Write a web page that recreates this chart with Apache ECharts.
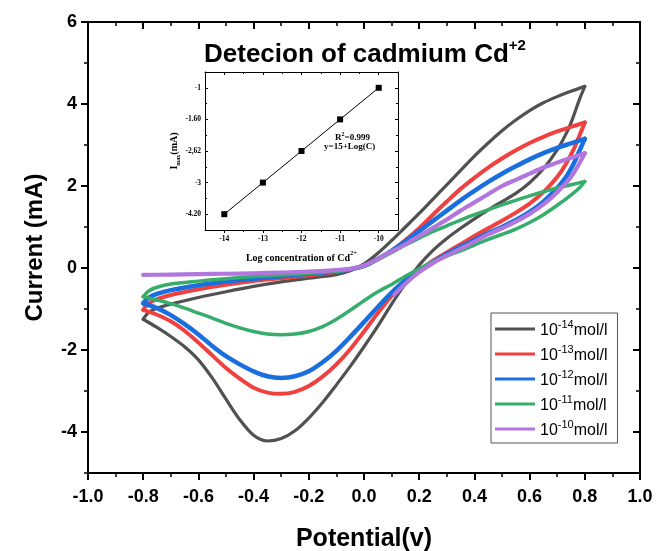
<!DOCTYPE html>
<html><head><meta charset="utf-8">
<script src="https://cdn.jsdelivr.net/npm/echarts@6/dist/echarts.min.js"></script>
<style>html,body{margin:0;padding:0;background:#fff}#c{width:657px;height:551px}</style>
</head><body><div id="c"></div>
<script>
// ---- data ----
const concExp = ['-14', '-13', '-12', '-11', '-10'];
const seriesNames = concExp.map(e => '10' + e + 'mol/l');
const seriesColors = ['#515151', '#F14040', '#1A6FDF', '#37AD6B', '#B177DE'];

// forward (upper) branches: -0.8 V -> 0.8 V
const fwd14 = [[-0.8,-1.25],[-0.78,-1.08],[-0.75,-0.98],[-0.7,-0.88],[-0.6,-0.72],[-0.5,-0.58],[-0.4,-0.45],[-0.3,-0.34],[-0.2,-0.25],[-0.1,-0.16],[-0.05,-0.07],[0.0,0.1],[0.05,0.36],[0.1,0.67],[0.15,1.0],[0.2,1.33],[0.25,1.68],[0.3,2.03],[0.35,2.38],[0.4,2.73],[0.45,3.05],[0.5,3.35],[0.55,3.61],[0.6,3.84],[0.65,4.03],[0.7,4.18],[0.75,4.31],[0.8,4.43]];
const fwd13 = [[-0.8,-1.02],[-0.78,-0.86],[-0.75,-0.76],[-0.7,-0.66],[-0.6,-0.52],[-0.5,-0.41],[-0.4,-0.32],[-0.3,-0.25],[-0.2,-0.18],[-0.1,-0.1],[-0.05,-0.04],[0.0,0.05],[0.05,0.22],[0.1,0.42],[0.15,0.68],[0.2,0.97],[0.25,1.3],[0.3,1.62],[0.35,1.93],[0.4,2.2],[0.45,2.45],[0.5,2.67],[0.55,2.87],[0.6,3.05],[0.65,3.2],[0.7,3.33],[0.75,3.44],[0.8,3.55]];
const fwd12 = [[-0.8,-0.86],[-0.78,-0.72],[-0.75,-0.63],[-0.7,-0.54],[-0.6,-0.42],[-0.5,-0.33],[-0.4,-0.26],[-0.3,-0.2],[-0.2,-0.14],[-0.1,-0.08],[-0.05,-0.03],[0.0,0.05],[0.05,0.22],[0.1,0.42],[0.15,0.65],[0.2,0.9],[0.25,1.15],[0.3,1.4],[0.35,1.65],[0.4,1.88],[0.45,2.1],[0.5,2.3],[0.55,2.48],[0.6,2.65],[0.65,2.8],[0.7,2.93],[0.75,3.04],[0.8,3.15]];
const fwd11 = [[-0.8,-0.7],[-0.78,-0.56],[-0.75,-0.47],[-0.7,-0.39],[-0.6,-0.32],[-0.5,-0.26],[-0.4,-0.21],[-0.3,-0.17],[-0.2,-0.13],[-0.1,-0.08],[-0.05,-0.03],[0.0,0.05],[0.05,0.2],[0.1,0.38],[0.15,0.56],[0.2,0.73],[0.25,0.89],[0.3,1.03],[0.35,1.17],[0.4,1.3],[0.45,1.42],[0.5,1.54],[0.55,1.65],[0.6,1.76],[0.65,1.86],[0.7,1.95],[0.75,2.03],[0.8,2.11]];
const fwd10 = [[-0.8,-0.17],[-0.7,-0.16],[-0.6,-0.15],[-0.5,-0.14],[-0.4,-0.13],[-0.3,-0.11],[-0.2,-0.09],[-0.1,-0.05],[-0.05,-0.02],[0.0,0.06],[0.05,0.22],[0.1,0.4],[0.15,0.58],[0.2,0.78],[0.25,0.98],[0.3,1.18],[0.35,1.4],[0.4,1.6],[0.45,1.8],[0.5,2.0],[0.55,2.15],[0.6,2.3],[0.65,2.45],[0.7,2.57],[0.75,2.69],[0.8,2.8]];
// reverse (lower) branches: 0.8 V -> -0.8 V
const rev14 = [[0.8,4.43],[0.78,4.1],[0.76,3.72],[0.74,3.38],[0.7,2.88],[0.65,2.42],[0.6,2.08],[0.55,1.82],[0.5,1.62],[0.45,1.42],[0.4,1.2],[0.35,0.97],[0.3,0.72],[0.25,0.43],[0.2,0.07],[0.15,-0.38],[0.1,-0.88],[0.05,-1.42],[0.0,-1.92],[-0.05,-2.4],[-0.1,-2.85],[-0.15,-3.28],[-0.2,-3.66],[-0.25,-3.97],[-0.3,-4.16],[-0.35,-4.22],[-0.4,-4.08],[-0.45,-3.7],[-0.5,-3.2],[-0.55,-2.68],[-0.6,-2.24],[-0.65,-1.92],[-0.7,-1.67],[-0.75,-1.45],[-0.8,-1.25]];
const rev13 = [[0.8,3.55],[0.78,3.22],[0.76,2.9],[0.73,2.52],[0.7,2.22],[0.65,1.85],[0.6,1.57],[0.55,1.35],[0.5,1.15],[0.45,0.97],[0.4,0.78],[0.35,0.58],[0.3,0.38],[0.25,0.18],[0.2,-0.06],[0.15,-0.33],[0.1,-0.68],[0.05,-1.1],[0.0,-1.55],[-0.05,-1.98],[-0.1,-2.35],[-0.15,-2.65],[-0.2,-2.88],[-0.25,-3.02],[-0.3,-3.07],[-0.35,-3.04],[-0.4,-2.92],[-0.45,-2.7],[-0.5,-2.44],[-0.55,-2.13],[-0.6,-1.82],[-0.65,-1.53],[-0.7,-1.3],[-0.75,-1.14],[-0.8,-1.02]];
const rev12 = [[0.8,3.15],[0.78,2.85],[0.76,2.55],[0.73,2.2],[0.7,1.95],[0.65,1.62],[0.6,1.37],[0.55,1.17],[0.5,1.0],[0.45,0.85],[0.4,0.68],[0.35,0.52],[0.3,0.34],[0.25,0.15],[0.2,-0.07],[0.15,-0.3],[0.1,-0.6],[0.05,-0.95],[0.0,-1.32],[-0.05,-1.68],[-0.1,-2.02],[-0.15,-2.3],[-0.2,-2.52],[-0.25,-2.64],[-0.3,-2.68],[-0.35,-2.64],[-0.4,-2.52],[-0.45,-2.35],[-0.5,-2.15],[-0.55,-1.9],[-0.6,-1.62],[-0.65,-1.37],[-0.7,-1.15],[-0.75,-0.98],[-0.8,-0.86]];
const rev11 = [[0.8,2.11],[0.78,1.95],[0.75,1.78],[0.7,1.53],[0.65,1.3],[0.6,1.11],[0.55,0.95],[0.5,0.82],[0.45,0.7],[0.4,0.56],[0.35,0.42],[0.3,0.29],[0.25,0.15],[0.2,-0.02],[0.15,-0.2],[0.1,-0.4],[0.05,-0.58],[0.0,-0.8],[-0.05,-1.03],[-0.1,-1.25],[-0.15,-1.43],[-0.2,-1.55],[-0.25,-1.61],[-0.3,-1.63],[-0.35,-1.61],[-0.4,-1.55],[-0.45,-1.46],[-0.5,-1.35],[-0.55,-1.22],[-0.6,-1.1],[-0.65,-0.98],[-0.7,-0.87],[-0.75,-0.78],[-0.8,-0.7]];
const rev10 = [[0.8,2.8],[0.78,2.55],[0.75,2.22],[0.7,1.85],[0.65,1.55],[0.6,1.32],[0.55,1.13],[0.5,0.97],[0.45,0.82],[0.4,0.64],[0.35,0.47],[0.3,0.3],[0.25,0.12],[0.2,-0.1],[0.15,-0.38],[0.11,-0.65]];
const fwdData = [fwd14, fwd13, fwd12, fwd11, fwd10];
const revData = [rev14, rev13, rev12, rev11, rev10];

const yTickValues = [-4, -2, 0, 2, 4, 6];
const yMinorValues = [-5, -3, -1, 1, 3, 5];

const insetX = [-14, -13, -12, -11, -10];
const insetYLabels = ['-4.20', '-3', '-2,62', '-1.60', '-1'];
const insetXMinor = [-13.5, -12.5, -11.5, -10.5];
const insetYMinor = [0.5, 1.5, 2.5, 3.5];

// ---- chart ----
const SANS = 'Arial, "Liberation Sans", sans-serif';
const SERIF = '"Times New Roman", "Liberation Serif", serif';
const chart = echarts.init(document.getElementById('c'), null, {renderer: 'canvas'});

const black = '#000';
function mainX(pos, inside, labels) {
  return {
    type: 'value', gridIndex: 0, position: pos, min: -1, max: 1, interval: 0.2,
    axisLine: {show: true, onZero: false, lineStyle: {color: black, width: 2}},
    axisTick: {show: true, inside, length: 7, lineStyle: {color: black, width: 2}},
    minorTick: {show: true, splitNumber: 2, length: 4, lineStyle: {color: black, width: 1.5}},
    splitLine: {show: false}, minorSplitLine: {show: false},
    axisLabel: {show: labels, formatter: v => v.toFixed(1), fontFamily: SANS, fontWeight: 'bold', fontSize: 18, color: black, margin: 15},
    name: labels ? 'Potential(v)' : '', nameLocation: 'middle', nameGap: 54,
    nameTextStyle: {fontFamily: SANS, fontWeight: 'bold', fontSize: 25, color: black}
  };
}
function mainY(pos, inside, values, len, labels, line) {
  return {
    type: 'value', gridIndex: 0, position: pos, min: -5, max: 6,
    axisLine: {show: line, onZero: false, lineStyle: {color: black, width: 2}},
    axisTick: {show: true, inside, length: len, customValues: values, lineStyle: {color: black, width: len > 5 ? 2 : 1.5}},
    splitLine: {show: false},
    axisLabel: {show: labels, customValues: values, fontFamily: SANS, fontWeight: 'bold', fontSize: 18, color: black, margin: 11},
    name: labels ? 'Current (mA)' : '', nameLocation: 'middle', nameGap: 41, nameRotate: 90,
    nameTextStyle: {fontFamily: SANS, fontWeight: 'bold', fontSize: 24, color: black}
  };
}
function insetXAxis(pos, inside, values, len, labels, line) {
  return {
    type: 'value', gridIndex: 1, position: pos, min: -14.5, max: -9.5, z: 30,
    axisLine: {show: line, onZero: false, lineStyle: {color: black, width: 1}},
    axisTick: {show: true, inside, length: len, customValues: values, lineStyle: {color: black, width: 1}},
    splitLine: {show: false},
    axisLabel: {show: labels, customValues: values, fontFamily: SERIF, fontWeight: 'bold', fontSize: 7.5, color: black, margin: 5},
    name: labels ? '{t|Log concentration of Cd}{s|2+}' : '', nameLocation: 'middle', nameGap: 20,
    nameTextStyle: {fontFamily: SERIF, fontWeight: 'bold', fontSize: 10, color: black,
      rich: {t: {fontFamily: SERIF, fontWeight: 'bold', fontSize: 10, lineHeight: 13, verticalAlign: 'bottom'},
             s: {fontFamily: SERIF, fontWeight: 'bold', fontSize: 6.5, lineHeight: 8, verticalAlign: 'top'}}}
  };
}
function insetYAxis(pos, inside, values, len, labels, line) {
  return {
    type: 'value', gridIndex: 1, position: pos, min: -0.5, max: 4.5, z: 30,
    axisLine: {show: line, onZero: false, lineStyle: {color: black, width: 1}},
    axisTick: {show: true, inside, length: len, customValues: values, lineStyle: {color: black, width: 1}},
    splitLine: {show: false},
    axisLabel: {show: labels, customValues: values, formatter: v => insetYLabels[Math.round(v)],
      fontFamily: SERIF, fontWeight: 'bold', fontSize: 7.5, color: black, margin: 4},
    name: labels ? '{t|I}{s|max}{t|(mA)}' : '', nameLocation: 'middle', nameGap: 18, nameRotate: 90,
    nameTextStyle: {fontFamily: SERIF, fontWeight: 'bold', fontSize: 10, color: black,
      rich: {t: {fontFamily: SERIF, fontWeight: 'bold', fontSize: 10, lineHeight: 12, verticalAlign: 'top'},
             s: {fontFamily: SERIF, fontWeight: 'bold', fontSize: 6, lineHeight: 7, verticalAlign: 'bottom'}}}
  };
}
const insetTicks = insetX;
const insetYTicks = [0, 1, 2, 3, 4];
const lineWidths = [3.2, 4, 4.5, 3.5, 4.2];

const mainSeries = [];
[revData, fwdData].forEach((set, k) => set.forEach((d, i) => mainSeries.push({
  name: seriesNames[i], type: 'line', xAxisIndex: 0, yAxisIndex: 0,
  data: d, showSymbol: false, symbol: 'none', smooth: 0.3,
  lineStyle: {color: seriesColors[i], width: lineWidths[i], cap: 'round', join: 'round'},
  itemStyle: {color: seriesColors[i]}, z: 2 + i, silent: true
})));

const option = {
  animation: false,
  backgroundColor: '#fff',
  title: {
    text: '{t|Detecion of cadmium Cd}{s|+2}', left: 199, top: 33,
    textStyle: {rich: {
      t: {fontFamily: SANS, fontWeight: 'bold', fontSize: 26, color: black, lineHeight: 30, verticalAlign: 'bottom'},
      s: {fontFamily: SANS, fontWeight: 'bold', fontSize: 15, color: black, lineHeight: 17, verticalAlign: 'top'}
    }}
  },
  legend: {
    orient: 'vertical', left: 491, top: 313, data: seriesNames,
    icon: 'rect', itemWidth: 40, itemHeight: 3, itemGap: 5,
    padding: [6, 10, 4, 4], borderColor: '#555', borderWidth: 1,
    formatter: name => {
      const e = name.match(/^10(-\d+)mol/)[1];
      return '{b|10}{s|' + e + '}{b|mol/l}';
    },
    textStyle: {rich: {
      b: {fontFamily: SANS, fontSize: 16, color: black, lineHeight: 20, verticalAlign: 'bottom'},
      s: {fontFamily: SANS, fontSize: 11, color: black, lineHeight: 11, verticalAlign: 'top'}
    }}
  },
  grid: [
    {left: 88, top: 22, width: 552, height: 451, containLabel: false, outerBoundsMode: 'none'},
    {left: 205, top: 72, width: 193, height: 158, containLabel: false, outerBoundsMode: 'none'}
  ],
  xAxis: [
    mainX('bottom', false, true),
    mainX('top', true, false),
    insetXAxis('bottom', false, insetTicks, 3, true, true),
    insetXAxis('top', true, insetTicks, 3, false, true),
    insetXAxis('bottom', false, insetXMinor, 2, false, false),
    insetXAxis('top', true, insetXMinor, 2, false, false)
  ],
  yAxis: [
    mainY('left', false, yTickValues, 7, true, true),
    mainY('left', false, yMinorValues, 4, false, false),
    mainY('right', true, yTickValues, 7, false, true),
    mainY('right', true, yMinorValues, 4, false, false),
    insetYAxis('left', true, insetYTicks, 3, true, true),
    insetYAxis('left', true, insetYMinor, 2, false, false),
    insetYAxis('right', true, insetYTicks, 3, false, true),
    insetYAxis('right', true, insetYMinor, 2, false, false)
  ],
  series: mainSeries.concat([{
    type: 'line', xAxisIndex: 2, yAxisIndex: 4,
    data: insetX.map((x, i) => [x, i]),
    symbol: 'rect', symbolSize: 6, showSymbol: true,
    lineStyle: {color: black, width: 1}, itemStyle: {color: black}, z: 20, silent: true
  }]),
  graphic: [{
    type: 'text', z: 100, left: 335, top: 131,
    style: {text: '{t|R}{s|2}{t|=0.999}', rich: {
      t: {fontFamily: SERIF, fontWeight: 'bold', fontSize: 9, fill: black, lineHeight: 11, verticalAlign: 'bottom'},
      s: {fontFamily: SERIF, fontWeight: 'bold', fontSize: 6, fill: black, lineHeight: 6, verticalAlign: 'top'}}}
  }, {
    type: 'text', z: 100, left: 324, top: 142,
    style: {text: 'y=15+Log(C)', font: 'bold 9px ' + SERIF, fill: black}
  }]
};
chart.setOption(option);
</script>
</body></html>
